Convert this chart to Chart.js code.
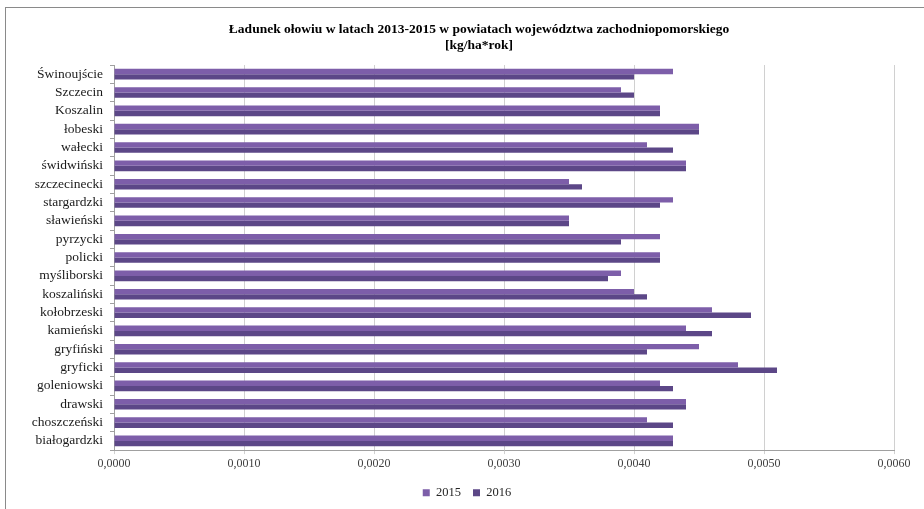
<!DOCTYPE html>
<html>
<head>
<meta charset="utf-8">
<script src="https://cdn.jsdelivr.net/npm/chart.js@4/dist/chart.umd.min.js"></script>
<style>
html,body{margin:0;padding:0;background:#fff;}
#wrap{position:relative;width:924px;height:509px;overflow:hidden;}
#frame{position:absolute;left:5px;top:7px;width:940px;height:520px;border-left:1px solid #8a8a8a;border-top:1px solid #8a8a8a;box-sizing:border-box;pointer-events:none;}
canvas{position:absolute;left:0;top:0;}
</style>
</head>
<body>
<div id="wrap">
<canvas id="c" width="924" height="509"></canvas>
<div id="frame"></div>
</div>
<script>
const categories = ["Świnoujście","Szczecin","Koszalin","łobeski","wałecki","świdwiński","szczecinecki","stargardzki","sławieński","pyrzycki","policki","myśliborski","koszaliński","kołobrzeski","kamieński","gryfiński","gryficki","goleniowski","drawski","choszczeński","białogardzki"];
const values2015 = [0.0043,0.0039,0.0042,0.0045,0.0041,0.0044,0.0035,0.0043,0.0035,0.0042,0.0042,0.0039,0.0040,0.0046,0.0044,0.0045,0.0048,0.0042,0.0044,0.0041,0.0043];
const values2016 = [0.0040,0.0040,0.0042,0.0045,0.0043,0.0044,0.0036,0.0042,0.0035,0.0039,0.0042,0.0038,0.0041,0.0049,0.0046,0.0041,0.0051,0.0043,0.0044,0.0043,0.0043];
const seriesLabels = ["2015","2016"];
const titleLines = ["Ładunek ołowiu w latach 2013-2015 w powiatach województwa zachodniopomorskiego","[kg/ha*rok]"];
const xTickMin = 0, xTickMax = 0.006, xTickStep = 0.001;

const FONT = "'Liberation Serif','Times New Roman',serif";

function shiftBox(box, target){
  if(!box) return;
  const dx = target - (box.left + box.right)/2;
  box.left += dx; box.right += dx;
  if (box.legendHitBoxes) box.legendHitBoxes.forEach(h=>{h.left += dx;});
}
const centerShift = {
  id:'centerShift',
  afterLayout(chart){
    shiftBox(chart.legend, 467);
    shiftBox(chart.titleBlock, 479);
  }
};

new Chart(document.getElementById('c'), {
  type:'bar',
  data:{
    labels: categories,
    datasets:[
      {label:seriesLabels[0], data:values2015, backgroundColor:'#7d5ea9', borderWidth:0},
      {label:seriesLabels[1], data:values2016, backgroundColor:'#5c4787', borderWidth:0}
    ]
  },
  options:{
    indexAxis:'y',
    responsive:false,
    animation:false,
    devicePixelRatio:1,
    layout:{padding:{top:22,left:5,right:30,bottom:0}},
    datasets:{bar:{categoryPercentage:0.58,barPercentage:1.0}},
    plugins:{
      tooltip:{enabled:false},
      title:{
        display:true,
        text:titleLines,
        color:'#000',
        font:{family:FONT,size:13.5,weight:'bold',lineHeight:'16px'},
        padding:{top:0,bottom:11}
      },
      legend:{
        display:true,
        position:'bottom',
        labels:{
          color:'#262626',
          font:{family:FONT,size:12.5},
          boxWidth:7,boxHeight:7,
          padding:12
        }
      }
    },
    scales:{
      x:{
        min:xTickMin, max:xTickMax,
        ticks:{
          stepSize:xTickStep,
          color:'#404040',
          font:{family:FONT,size:12},
          padding:3,
          callback:(v)=>Number(v).toFixed(4).replace('.',',')
        },
        grid:{color:'#d0d0d0',lineWidth:1,tickLength:4,drawTicks:true},
        border:{display:true,color:'#a0a0a0'}
      },
      y:{
        afterFit(scale){scale.width = 109;},
        ticks:{
          color:'#1a1a1a',
          font:{family:FONT,size:13.5},
          padding:7,
          autoSkip:false
        },
        grid:{drawOnChartArea:false,drawTicks:true,tickLength:4,color:'#a0a0a0',offset:true},
        border:{display:true,color:'#a0a0a0'}
      }
    }
  },
  plugins:[centerShift]
});
</script>
</body>
</html>
